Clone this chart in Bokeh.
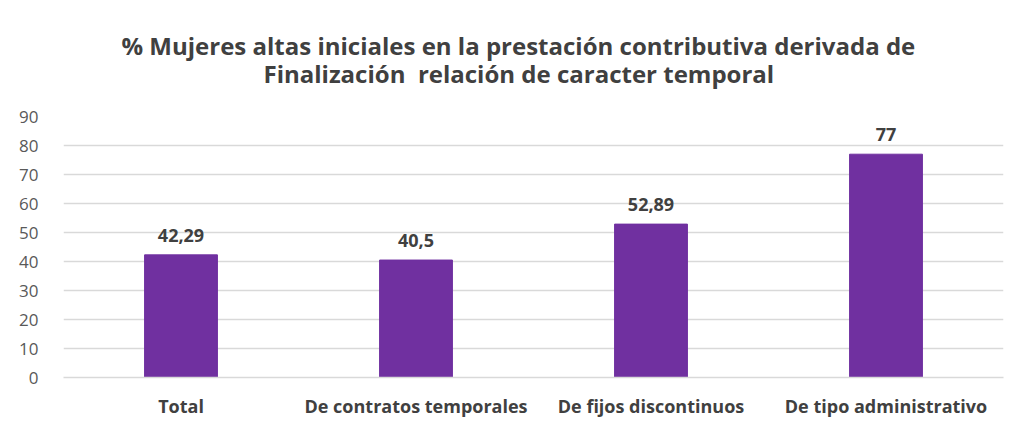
from bokeh.plotting import figure
from bokeh.models import ColumnDataSource, LabelSet, FixedTicker, Range1d, Title
from bokeh.core.properties import value
from bokeh.embed import file_html
from bokeh.resources import INLINE

categories = ["Total", "De contratos temporales", "De fijos discontinuos", "De tipo administrativo"]
values = [42.29, 40.5, 52.89, 77]
value_labels = ["42,29", "40,5", "52,89", "77"]
y_ticks = [0, 10, 20, 30, 40, 50, 60, 70, 80, 90]

title_line1 = "% Mujeres altas iniciales en la prestación contributiva derivada de"
title_line2 = "Finalización\u00a0 relación de caracter temporal"

src = ColumnDataSource(dict(cat=categories, val=values, lab=value_labels))

p = figure(x_range=categories, y_range=Range1d(0, 90), width=1008, height=420,
           output_backend="svg", toolbar_location=None, title=None,
           min_border_left=63, min_border_right=5, min_border_bottom=42, min_border_top=116)

t2 = Title(text=title_line2, align="left", text_font="Open Sans", text_font_size="24px",
           text_font_style="bold", text_color="#404040", standoff=53, offset=200)
t1 = Title(text=title_line1, align="left", text_font="Open Sans", text_font_size="24px",
           text_font_style="bold", text_color="#404040", standoff=-67, offset=58)
p.add_layout(t2, "above")
p.add_layout(t1, "above")

p.vbar(x="cat", top="val", width=0.31, source=src, color="#7030A0")

labels = LabelSet(x="cat", y="val", text="lab", source=src, text_align="center",
                  text_baseline="alphabetic", y_offset=13, text_font=value("Open Sans"),
                  text_font_size="18px", text_font_style="bold", text_color="#404040")
p.add_layout(labels)

p.outline_line_color = None
p.background_fill_color = "white"
p.border_fill_color = "white"

p.xgrid.grid_line_color = None
p.ygrid.grid_line_color = "#D9D9D9"
p.ygrid.grid_line_width = 1.5

p.yaxis.ticker = FixedTicker(ticks=y_ticks)
p.yaxis.axis_line_color = None
p.yaxis.major_tick_line_color = None
p.yaxis.minor_tick_line_color = None
p.yaxis.major_label_text_font = "Open Sans"
p.yaxis.major_label_text_font_size = "17px"
p.yaxis.major_label_text_color = "#595959"
p.yaxis.major_label_standoff = 19

p.xaxis.axis_line_color = "#D9D9D9"
p.xaxis.axis_line_width = 1.5
p.xaxis.major_tick_line_color = None
p.xaxis.minor_tick_line_color = None
p.xaxis.major_label_text_font = "Open Sans"
p.xaxis.major_label_text_font_size = "18px"
p.xaxis.major_label_text_font_style = "bold"
p.xaxis.major_label_text_color = "#404040"
p.xaxis.major_label_standoff = 10
p.x_range.range_padding = 0

open("out.html", "w").write(file_html(p, INLINE))
